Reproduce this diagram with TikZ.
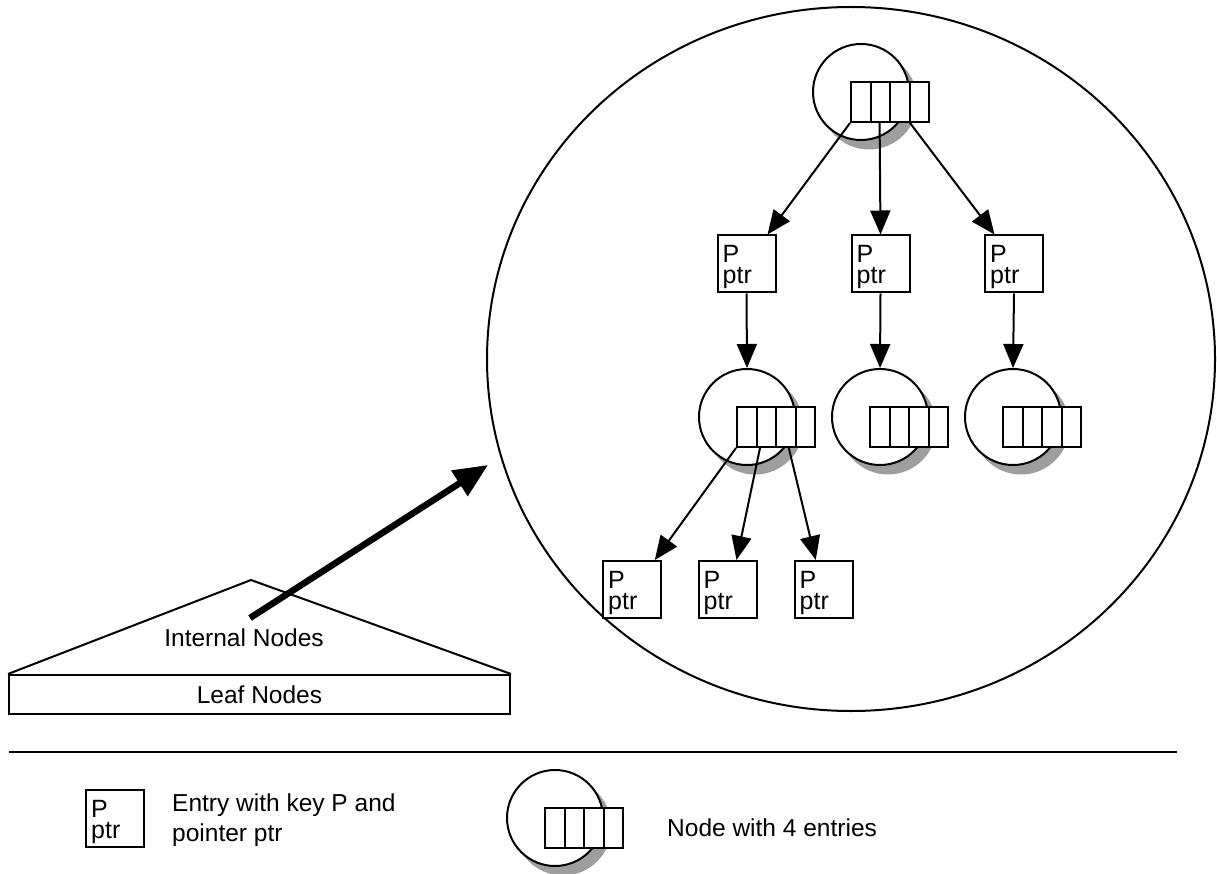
\documentclass[tikz,border=0pt]{standalone}
\usepackage{fontspec}
\setmainfont{Liberation Sans}
\usetikzlibrary{arrows.meta,calc,shapes.geometric}
\definecolor{shadowgray}{RGB}{158,158,158}
\tikzset{
  x=1pt, y=-1pt,
  thinline/.style={line width=2pt},
  lbltext/.style={font=\fontsize{24.5}{30}\selectfont, inner sep=0pt},
  conn/.style={thinline, -{Triangle[length=24pt,width=20pt]}},
  bigarrow/.style={line width=6.5pt, -{Triangle[length=34pt,width=29pt]}},
  nodering/.style={circle, draw, thinline, fill=white, minimum size=96pt, inner sep=0pt},
  ringshadow/.style={circle, fill=shadowgray, minimum size=97pt, inner sep=0pt},
  cellrow/.style={draw, thinline, fill=white, minimum width=78pt, minimum height=40pt, inner sep=0pt,
    path picture={
      \foreach \k in {1,2,3}
        \draw[thinline] ([xshift=\k*19.5pt]path picture bounding box.north west)
          -- ([xshift=\k*19.5pt]path picture bounding box.south west);
    }},
  entrybox/.style={draw, thinline, fill=white, minimum width=58pt, minimum height=57pt, inner sep=0pt},
  entrytext/.style={anchor=north west, inner sep=0pt, align=left, font=\fontsize{25}{21}\selectfont},
  btnode/.pic={
    \node[ringshadow] (-sh) at (8,9) {};
    \node[nodering] (-c) at (0,0) {};
    \node[cellrow] (-box) at (29,10) {};
  }
}
\newcommand{\entry}[2]{%
  \node[entrybox] (#1) at #2 {};
  \node[entrytext] (#1t) at ([xshift=6pt,yshift=-11pt]#1.north west) {P\\ptr};
}
\begin{document}
\begin{tikzpicture}
\useasboundingbox (0,0) rectangle (1217,874);

% magnified view of the upper levels
\node[draw, thinline, ellipse, minimum width=728pt, minimum height=704pt, inner sep=0pt] (view) at (851,359) {};

% tree nodes
\pic (top) at (861,92) {btnode};
\pic (m1) at (747,417) {btnode};
\pic (m2) at (880,417) {btnode};
\pic (m3) at (1013,417) {btnode};

% entries
\entry{e1}{(746.5,264)}
\entry{e2}{(880.5,264)}
\entry{e3}{(1014,264)}
\entry{l1}{(632,589.5)}
\entry{l2}{(727.5,589.5)}
\entry{l3}{(823.5,589.5)}

% pointers
\draw[conn] (top-box.south west) -- ($(e1.north)!0.7!(e1.north east)$);
\draw[conn] ($(top-box.south west)!0.37!(top-box.south east)$) -- (e2.north);
\draw[conn] ($(top-box.south west)!0.75!(top-box.south east)$) -- ($(e3.north)!0.65!(e3.north west)$);
\draw[conn] (e1.south) -- (m1-c.north);
\draw[conn] (e2.south) -- (m2-c.north);
\draw[conn] (e3.south) -- (m3-c.north);
\draw[conn] (m1-box.south west) -- ($(l1.north)!0.76!(l1.north east)$);
\draw[conn] ($(m1-box.south west)!0.3!(m1-box.south east)$) -- ($(l2.north)!0.3!(l2.north east)$);
\draw[conn] ($(m1-box.south west)!0.66!(m1-box.south east)$) -- ($(l3.north)!0.26!(l3.north west)$);

% whole tree
\node[draw, thinline, minimum width=501pt, minimum height=39pt, inner sep=0pt, font=\fontsize{24.5}{30}\selectfont] (leaf) at (259.5,694.5) {Leaf Nodes};
\coordinate (apex) at (251,580);
\draw[thinline, line join=miter] (leaf.north west) -- (apex) -- (leaf.north east);
\node[lbltext] (internal) at (244,638) {Internal Nodes};

\coordinate (arrstart) at (250,618);
\coordinate (arrtip) at (488,465);
\draw[bigarrow] (arrstart) -- (arrtip);

% legend
\coordinate (sepL) at (9,752);
\coordinate (sepR) at (1177,752);
\draw[thinline] (sepL) -- (sepR);

\entry{le}{(115,818.5)}
\node[lbltext, anchor=north west, align=left] (letext) at (172,794) {Entry with key P and\\pointer ptr};

\pic (ln) at (555,818) {btnode};
\node[lbltext, anchor=base west] (lntext) at (667,836) {Node with 4 entries};
\end{tikzpicture}
\end{document}
